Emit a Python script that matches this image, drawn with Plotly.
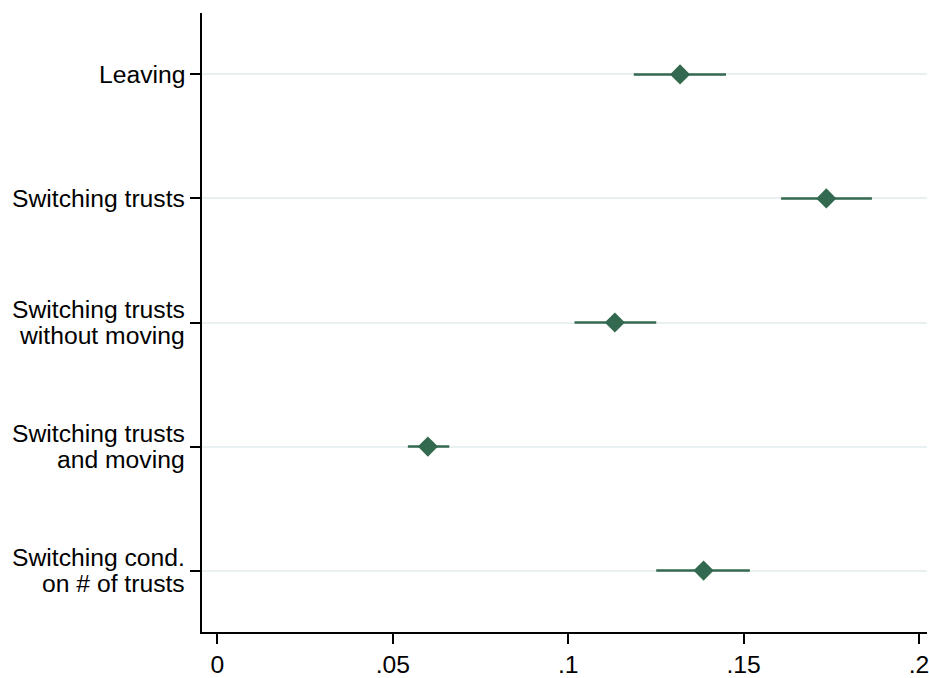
import plotly.graph_objects as go

categories = [
    ["Leaving"],
    ["Switching trusts"],
    ["Switching trusts", "without moving"],
    ["Switching trusts", "and moving"],
    ["Switching cond.", "on # of trusts"],
]
estimates = [0.1319, 0.1736, 0.1133, 0.0600, 0.1386]
ci_low = [0.1187, 0.1607, 0.1018, 0.0543, 0.1251]
ci_high = [0.1450, 0.1866, 0.1251, 0.0661, 0.1518]
x_tickvals = [0, 0.05, 0.1, 0.15, 0.2]
x_ticktext = ["0", ".05", ".1", ".15", ".2"]

ypos = list(range(len(categories)))
color = "#336a4f"
font = "Liberation Sans, Arial, sans-serif"
fsize = 24.7

fig = go.Figure()
fig.add_trace(go.Scatter(
    x=estimates, y=ypos, mode="markers",
    marker=dict(symbol="diamond", size=15.5, color=color, line=dict(width=0)),
    error_x=dict(type="data", symmetric=False,
                 array=[h - e for h, e in zip(ci_high, estimates)],
                 arrayminus=[e - l for e, l in zip(estimates, ci_low)],
                 width=0, thickness=2.5, color=color),
    showlegend=False, hoverinfo="skip",
))

annotations = []
line_gap = 26
for i, lines in enumerate(categories):
    n = len(lines)
    for j, txt in enumerate(lines):
        shift = ((n - 1) / 2 - j) * line_gap
        annotations.append(dict(
            x=0, xref="paper", y=i, yref="y", text=txt, showarrow=False,
            xanchor="right", yanchor="middle", xshift=-16, yshift=shift,
            borderpad=0,
            font=dict(family=font, size=fsize, color="black"),
        ))

fig.update_layout(
    width=929, height=678,
    margin=dict(l=202, r=0, t=13, b=40),
    paper_bgcolor="white", plot_bgcolor="white",
    font=dict(family=font, size=fsize, color="black"),
    annotations=annotations,
    xaxis=dict(
        range=[-0.0044, 0.2023], tickvals=x_tickvals, ticktext=x_ticktext,
        showline=True, linecolor="black", linewidth=1.5,
        ticks="outside", ticklen=10, tickwidth=1.5, tickcolor="black",
        showgrid=False, zeroline=False, ticklabeloverflow="allow",
        tickfont=dict(family=font, size=fsize, color="black"),
    ),
    yaxis=dict(
        range=[4.495, -0.495], tickvals=ypos, ticktext=[""] * len(ypos),
        showline=True, linecolor="black", linewidth=1.5,
        ticks="outside", ticklen=10, tickwidth=1.5, tickcolor="black",
        showgrid=True, gridcolor="#e9f0f2", gridwidth=2, zeroline=False,
    ),
)

fig.write_html("out.html")
